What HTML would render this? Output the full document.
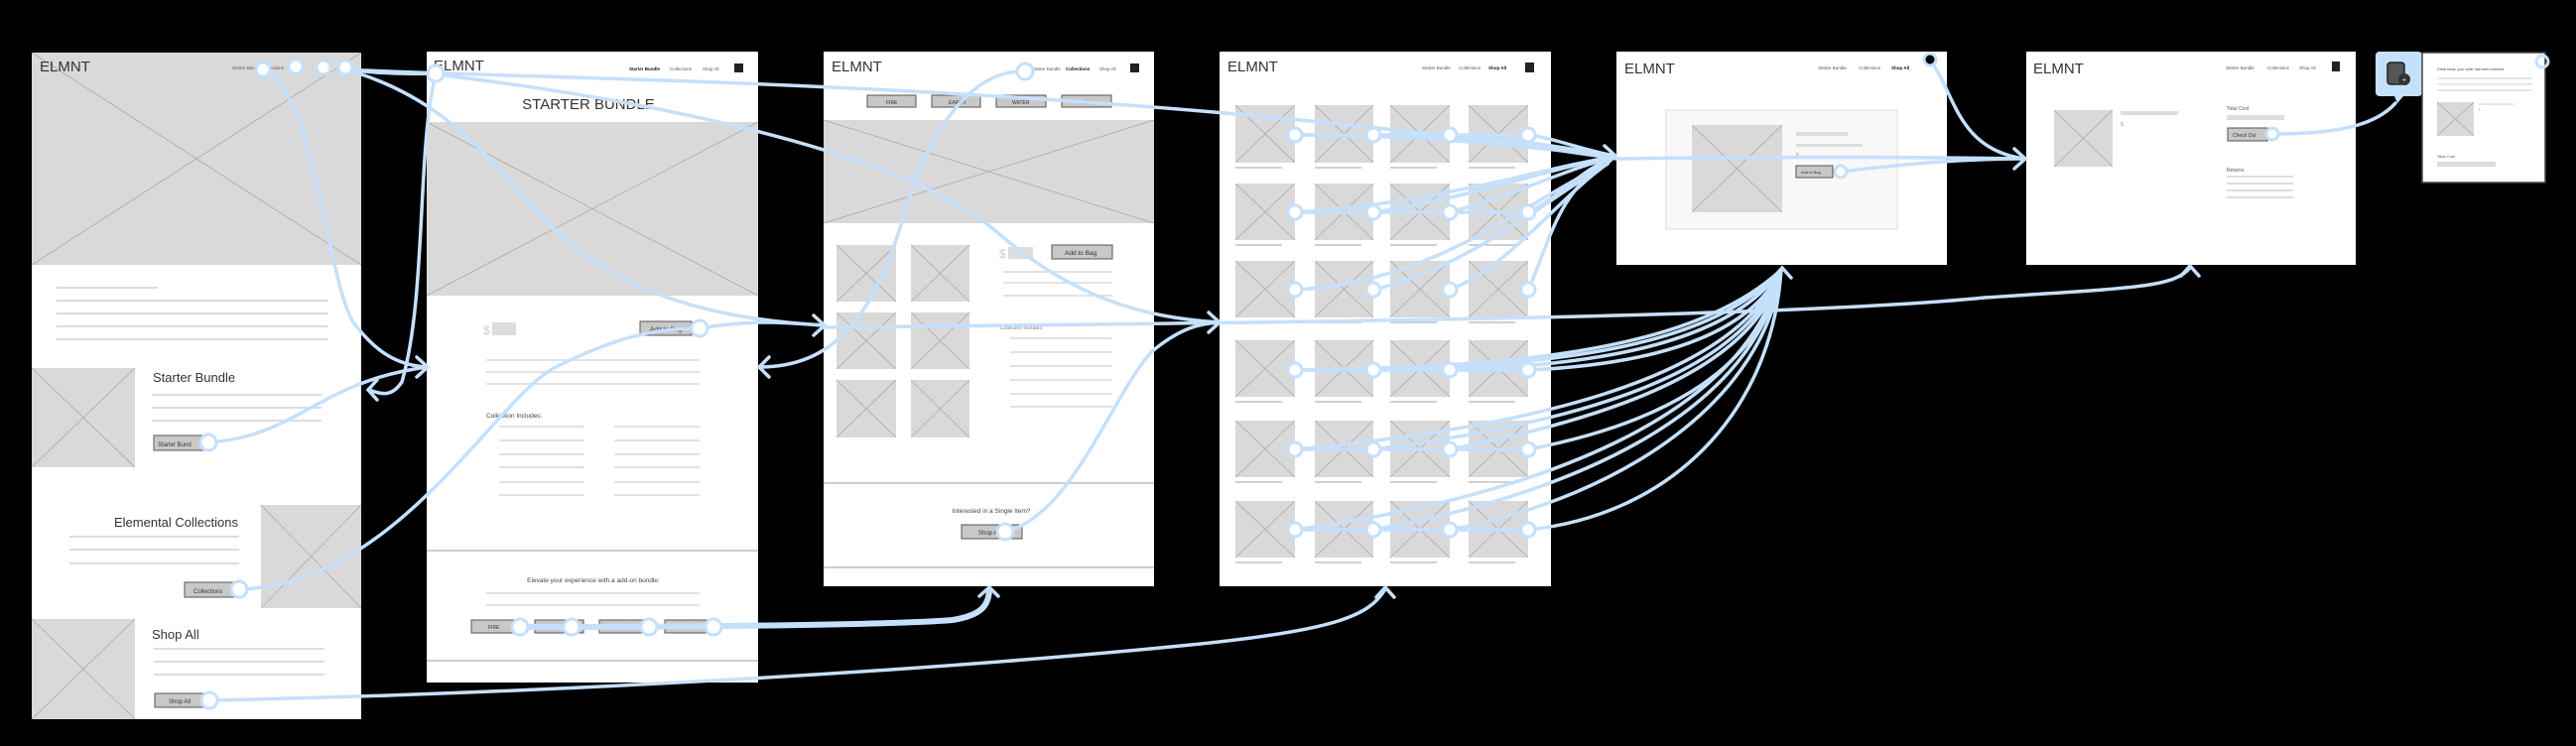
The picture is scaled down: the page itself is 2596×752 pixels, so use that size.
<!DOCTYPE html>
<html><head><meta charset="utf-8"><style>
html,body{margin:0;padding:0;background:#000;}
svg{display:block;font-family:"Liberation Sans",sans-serif;}
</style></head><body>
<svg width="2596" height="752" viewBox="0 0 2596 752" xmlns="http://www.w3.org/2000/svg">
<defs>
<symbol id="ph" viewBox="0 0 100 100" preserveAspectRatio="none">
<rect x="0" y="0" width="100" height="100" fill="#d9d9d9"/>
<line x1="0" y1="0" x2="100" y2="100" stroke="#9a9a9a" stroke-width="0.6" vector-effect="non-scaling-stroke"/>
<line x1="100" y1="0" x2="0" y2="100" stroke="#9a9a9a" stroke-width="0.6" vector-effect="non-scaling-stroke"/>
</symbol>
</defs>
<rect width="2596" height="752" fill="#000"/>

<!-- FRAME 1 -->
<rect x="32" y="53" width="332" height="672" fill="#fff"/>
<use href="#ph" x="32" y="53" width="332" height="214"/>
<text x="40" y="72" font-size="15" fill="#333">ELMNT</text>
<text x="234" y="70" font-size="4.5" fill="#555">Starter Bundle  Collections</text>
<g stroke="#d0d0d0" stroke-width="1.5">
<line x1="57" y1="290" x2="159" y2="290"/>
<line x1="57" y1="303" x2="331" y2="303"/><line x1="57" y1="316" x2="331" y2="316"/>
<line x1="57" y1="329" x2="331" y2="329"/><line x1="57" y1="342" x2="331" y2="342"/>
<line x1="153" y1="398" x2="324" y2="398"/><line x1="153" y1="411" x2="324" y2="411"/><line x1="153" y1="424" x2="324" y2="424"/>
<line x1="70" y1="541" x2="241" y2="541"/><line x1="70" y1="554" x2="241" y2="554"/><line x1="70" y1="568" x2="241" y2="568"/>
<line x1="155" y1="654" x2="327" y2="654"/><line x1="155" y1="667" x2="327" y2="667"/><line x1="155" y1="680" x2="327" y2="680"/>
</g>
<use href="#ph" x="32" y="371" width="104" height="100"/>
<text x="154" y="385" font-size="13" fill="#333">Starter Bundle</text>
<rect x="155" y="439" width="55" height="15" fill="#c8c8c8" stroke="#555"/>
<text x="159" y="450" font-size="6" fill="#333">Starter Bund</text>
<use href="#ph" x="263" y="509" width="101" height="104"/>
<text x="240" y="531" font-size="13" fill="#333" text-anchor="end">Elemental Collections</text>
<rect x="186" y="587" width="54" height="15" fill="#c8c8c8" stroke="#555"/>
<text x="195" y="598" font-size="6" fill="#333">Collections</text>
<use href="#ph" x="32" y="624" width="104" height="101"/>
<text x="153" y="644" font-size="13" fill="#333">Shop All</text>
<rect x="156" y="699" width="54" height="14" fill="#c8c8c8" stroke="#555"/>
<text x="170" y="709" font-size="6" fill="#333">Shop All</text>

<!-- FRAME 2 -->
<rect x="430" y="52" width="334" height="636" fill="#fff"/>
<text x="437" y="71" font-size="15" fill="#333">ELMNT</text>
<text x="634" y="71" font-size="4.5" fill="#111" font-weight="bold">Starter Bundle</text>
<text x="675" y="71" font-size="4.5" fill="#555">Collections</text>
<text x="708" y="71" font-size="4.5" fill="#555">Shop All</text>
<rect x="740" y="64" width="9" height="9" fill="#222"/>
<text x="593" y="110" font-size="15" fill="#333" text-anchor="middle">STARTER BUNDLE</text>
<use href="#ph" x="430" y="123" width="334" height="175"/>
<text x="487" y="337" font-size="12" fill="#ccc">$</text>
<rect x="496" y="325" width="24" height="13" fill="#ddd"/>
<rect x="645" y="324" width="52" height="14" fill="#c8c8c8" stroke="#555"/>
<text x="655" y="334" font-size="6.5" fill="#333">Add to Bag</text>
<g stroke="#d0d0d0" stroke-width="1.2">
<line x1="490" y1="363" x2="705" y2="363"/><line x1="490" y1="375" x2="705" y2="375"/><line x1="490" y1="387" x2="705" y2="387"/>
<line x1="503" y1="430" x2="589" y2="430"/><line x1="503" y1="444" x2="589" y2="444"/><line x1="503" y1="458" x2="589" y2="458"/><line x1="503" y1="471" x2="589" y2="471"/><line x1="503" y1="486" x2="589" y2="486"/><line x1="503" y1="499" x2="589" y2="499"/>
<line x1="619" y1="430" x2="705" y2="430"/><line x1="619" y1="444" x2="705" y2="444"/><line x1="619" y1="458" x2="705" y2="458"/><line x1="619" y1="471" x2="705" y2="471"/><line x1="619" y1="486" x2="705" y2="486"/><line x1="619" y1="499" x2="705" y2="499"/>
<line x1="490" y1="598" x2="705" y2="598"/><line x1="490" y1="610" x2="705" y2="610"/>
</g>
<text x="490" y="421" font-size="6.5" fill="#444">Collection Includes:</text>
<line x1="430" y1="555" x2="764" y2="555" stroke="#bbb" stroke-width="1.5"/>
<text x="598" y="587" font-size="6.5" fill="#444" text-anchor="middle">Elevate your experience with a add-on bundle:</text>
<g fill="#c8c8c8" stroke="#555">
<rect x="475" y="625" width="45" height="13"/><rect x="539" y="625" width="49" height="13"/><rect x="604" y="625" width="51" height="13"/><rect x="670" y="625" width="42" height="13"/>
</g>
<text x="492" y="634" font-size="5" fill="#333">FIRE</text>
<line x1="430" y1="666" x2="764" y2="666" stroke="#bbb" stroke-width="1.5"/>

<!-- FRAME 3 -->
<rect x="830" y="52" width="333" height="539" fill="#fff"/>
<text x="838" y="72" font-size="15" fill="#333">ELMNT</text>
<text x="1040" y="71" font-size="4.5" fill="#555">Starter Bundle</text>
<text x="1074" y="71" font-size="4.5" fill="#111" font-weight="bold">Collections</text>
<text x="1108" y="71" font-size="4.5" fill="#555">Shop All</text>
<rect x="1139" y="64" width="9" height="9" fill="#222"/>
<g fill="#c8c8c8" stroke="#555">
<rect x="874" y="96" width="49" height="12"/><rect x="939" y="96" width="49" height="12"/><rect x="1004" y="96" width="50" height="12"/><rect x="1070" y="96" width="50" height="12"/>
</g>
<text x="893" y="105" font-size="5" fill="#333">FIRE</text>
<text x="956" y="105" font-size="5" fill="#333">EARTH</text>
<text x="1020" y="105" font-size="5" fill="#333">WATER</text>
<text x="1090" y="105" font-size="5" fill="#333">AIR</text>
<use href="#ph" x="830" y="121" width="333" height="104"/>
<use href="#ph" x="843" y="247" width="60" height="57"/><use href="#ph" x="918" y="247" width="59" height="57"/>
<use href="#ph" x="843" y="315" width="60" height="57"/><use href="#ph" x="918" y="315" width="59" height="57"/>
<use href="#ph" x="843" y="383" width="60" height="58"/><use href="#ph" x="918" y="383" width="59" height="58"/>
<text x="1007" y="260" font-size="12" fill="#ccc">$</text>
<rect x="1016" y="249" width="25" height="12" fill="#ddd"/>
<rect x="1060" y="247" width="61" height="14" fill="#c8c8c8" stroke="#555"/>
<text x="1073" y="257" font-size="6.5" fill="#333">Add to Bag</text>
<g stroke="#d0d0d0" stroke-width="1.2">
<line x1="1011" y1="274" x2="1121" y2="274"/><line x1="1011" y1="285" x2="1121" y2="285"/><line x1="1011" y1="298" x2="1121" y2="298"/>
<line x1="1018" y1="341" x2="1121" y2="341"/><line x1="1018" y1="355" x2="1121" y2="355"/><line x1="1018" y1="369" x2="1121" y2="369"/><line x1="1018" y1="383" x2="1121" y2="383"/><line x1="1018" y1="397" x2="1121" y2="397"/><line x1="1018" y1="410" x2="1121" y2="410"/>
</g>
<text x="1008" y="332" font-size="5" fill="#777">Collection Includes:</text>
<line x1="830" y1="487" x2="1163" y2="487" stroke="#bbb" stroke-width="1.5"/>
<text x="999" y="517" font-size="6.5" fill="#444" text-anchor="middle">Interested in a Single Item?</text>
<rect x="969" y="529" width="61" height="14" fill="#c8c8c8" stroke="#555"/>
<text x="986" y="539" font-size="6" fill="#333">Shop All</text>
<line x1="830" y1="572" x2="1163" y2="572" stroke="#bbb" stroke-width="1.5"/>

<!-- FRAME 4 -->
<rect x="1229" y="52" width="334" height="539" fill="#fff"/>
<text x="1237" y="72" font-size="15" fill="#333">ELMNT</text>
<text x="1433" y="70" font-size="4.5" fill="#555">Starter Bundle</text>
<text x="1470" y="70" font-size="4.5" fill="#555">Collections</text>
<text x="1500" y="70" font-size="4.5" fill="#111" font-weight="bold">Shop All</text>
<rect x="1537" y="63" width="9" height="10" fill="#222"/>
<g>
<use href="#ph" x="1245" y="106" width="60" height="58"/><use href="#ph" x="1325" y="106" width="59" height="58"/><use href="#ph" x="1401" y="106" width="60" height="58"/><use href="#ph" x="1480" y="106" width="60" height="58"/>
<use href="#ph" x="1245" y="185" width="60" height="57"/><use href="#ph" x="1325" y="185" width="59" height="57"/><use href="#ph" x="1401" y="185" width="60" height="57"/><use href="#ph" x="1480" y="185" width="60" height="57"/>
<use href="#ph" x="1245" y="263" width="60" height="57"/><use href="#ph" x="1325" y="263" width="59" height="57"/><use href="#ph" x="1401" y="263" width="60" height="57"/><use href="#ph" x="1480" y="263" width="60" height="57"/>
<use href="#ph" x="1245" y="343" width="60" height="57"/><use href="#ph" x="1325" y="343" width="59" height="57"/><use href="#ph" x="1401" y="343" width="60" height="57"/><use href="#ph" x="1480" y="343" width="60" height="57"/>
<use href="#ph" x="1245" y="424" width="60" height="57"/><use href="#ph" x="1325" y="424" width="59" height="57"/><use href="#ph" x="1401" y="424" width="60" height="57"/><use href="#ph" x="1480" y="424" width="60" height="57"/>
<use href="#ph" x="1245" y="505" width="60" height="57"/><use href="#ph" x="1325" y="505" width="59" height="57"/><use href="#ph" x="1401" y="505" width="60" height="57"/><use href="#ph" x="1480" y="505" width="60" height="57"/>
</g>
<g stroke="#d0d0d0" stroke-width="2">
<line x1="1245" y1="169" x2="1292" y2="169"/><line x1="1325" y1="169" x2="1372" y2="169"/><line x1="1401" y1="169" x2="1448" y2="169"/><line x1="1480" y1="169" x2="1527" y2="169"/>
<line x1="1245" y1="247" x2="1292" y2="247"/><line x1="1325" y1="247" x2="1372" y2="247"/><line x1="1401" y1="247" x2="1448" y2="247"/><line x1="1480" y1="247" x2="1527" y2="247"/>
<line x1="1245" y1="325" x2="1292" y2="325"/><line x1="1325" y1="325" x2="1372" y2="325"/><line x1="1401" y1="325" x2="1448" y2="325"/><line x1="1480" y1="325" x2="1527" y2="325"/>
<line x1="1245" y1="405" x2="1292" y2="405"/><line x1="1325" y1="405" x2="1372" y2="405"/><line x1="1401" y1="405" x2="1448" y2="405"/><line x1="1480" y1="405" x2="1527" y2="405"/>
<line x1="1245" y1="486" x2="1292" y2="486"/><line x1="1325" y1="486" x2="1372" y2="486"/><line x1="1401" y1="486" x2="1448" y2="486"/><line x1="1480" y1="486" x2="1527" y2="486"/>
<line x1="1245" y1="567" x2="1292" y2="567"/><line x1="1325" y1="567" x2="1372" y2="567"/><line x1="1401" y1="567" x2="1448" y2="567"/><line x1="1480" y1="567" x2="1527" y2="567"/>
</g>

<!-- FRAME 5 -->
<rect x="1629" y="52" width="333" height="215" fill="#fff"/>
<text x="1637" y="74" font-size="15" fill="#333">ELMNT</text>
<text x="1832" y="70" font-size="4.5" fill="#555">Starter Bundle</text>
<text x="1873" y="70" font-size="4.5" fill="#555">Collections</text>
<text x="1906" y="70" font-size="4.5" fill="#111" font-weight="bold">Shop All</text>
<rect x="1679" y="111" width="233" height="120" fill="#f8f8f8" stroke="#ddd"/>
<use href="#ph" x="1705" y="126" width="91" height="88"/>
<rect x="1810" y="133" width="52" height="4" fill="#ddd"/>
<rect x="1810" y="145" width="67" height="3" fill="#ddd"/>
<text x="1810" y="158" font-size="5" fill="#999">$</text>
<rect x="1810" y="167" width="37" height="12" fill="#c8c8c8" stroke="#555"/>
<text x="1815" y="175" font-size="4" fill="#333">Add to Bag</text>

<!-- FRAME 6 -->
<rect x="2042" y="52" width="332" height="215" fill="#fff"/>
<text x="2049" y="74" font-size="15" fill="#333">ELMNT</text>
<text x="2243" y="70" font-size="4.5" fill="#555">Starter Bundle</text>
<text x="2285" y="70" font-size="4.5" fill="#555">Collections</text>
<text x="2317" y="70" font-size="4.5" fill="#555">Shop All</text>
<rect x="2350" y="62" width="8" height="10" fill="#222"/>
<use href="#ph" x="2070" y="111" width="59" height="57"/>
<rect x="2137" y="112" width="58" height="4" fill="#ddd"/>
<text x="2137" y="127" font-size="5" fill="#999">$</text>
<text x="2244" y="111" font-size="5" fill="#555">Total Cost</text>
<rect x="2244" y="116" width="58" height="5" fill="#ddd"/>
<rect x="2245" y="129" width="40" height="13" fill="#c8c8c8" stroke="#555"/>
<text x="2250" y="138" font-size="5" fill="#333">Check Out</text>
<text x="2244" y="173" font-size="5" fill="#555">Returns</text>
<g stroke="#ddd" stroke-width="2"><line x1="2244" y1="178" x2="2311" y2="178"/><line x1="2244" y1="185" x2="2311" y2="185"/><line x1="2244" y1="192" x2="2311" y2="192"/><line x1="2244" y1="199" x2="2311" y2="199"/></g>

<!-- ICON -->
<path d="M2398 52 H2437 a4 4 0 0 1 4 4 V93 a4 4 0 0 1 -4 4 H2422 L2416 104 L2413 97 H2398 a4 4 0 0 1 -4 -4 V56 a4 4 0 0 1 4 -4 Z" fill="#c5e0fb"/>
<rect x="2406" y="63" width="17" height="22" rx="3" fill="#555" stroke="#222" stroke-width="1.5"/>
<circle cx="2423" cy="80" r="6" fill="#333"/>
<text x="2423" y="83" font-size="8" fill="#ccc" text-anchor="middle">+</text>

<!-- FRAME 7 -->
<rect x="2441" y="53" width="124" height="131" fill="#fff" stroke="#444" stroke-width="1.5"/>
<text x="2456" y="71" font-size="3.6" fill="#444">Great news, your order has been received.</text>
<g stroke="#ddd" stroke-width="1.5"><line x1="2456" y1="79" x2="2551" y2="79"/><line x1="2456" y1="85" x2="2551" y2="85"/><line x1="2456" y1="91" x2="2551" y2="91"/><line x1="2498" y1="105" x2="2533" y2="105"/></g>
<use href="#ph" x="2456" y="103" width="37" height="34"/>
<text x="2498" y="112" font-size="3" fill="#999">$</text>
<text x="2456" y="159" font-size="4" fill="#555">Total Cost</text>
<rect x="2456" y="163" width="59" height="5" fill="#ddd"/>

<!-- CONNECTORS -->
<g fill="none" stroke="#c5e0fb" stroke-width="3.5" stroke-linecap="round">
<!-- frame1 nav -->
<path d="M265 70 C320 90 330 300 360 330 C380 355 400 368 430 370"/>
<path d="M348 70 C520 80 1100 80 1629 160"/>
<path d="M348 70 C420 90 470 130 520 190 C600 290 700 320 830 328"/>
<path d="M348 70 C380 74 410 75 439 74"/>
<path d="M439 75 C650 100 900 150 1000 230 C1080 300 1150 320 1229 325"/>
<path d="M439 75 C420 150 430 300 405 385 C395 400 385 398 372 393"/>
<path d="M210 446 C300 440 320 385 430 370"/>
<path d="M241 594 C400 590 500 400 560 370 C620 340 660 331 705 331"/>
<path d="M705 331 C760 322 790 325 830 328"/>
<path d="M211 706 C500 700 900 680 1200 650 C1350 635 1380 620 1396 594"/>
<path d="M524 632 C700 632 900 630 960 625 C990 620 996 610 997 595" stroke-width="6"/>
<path d="M1033 72 C970 70 930 150 910 220 C880 320 840 370 765 370"/>
<path d="M1013 536 C1080 520 1120 400 1160 355 C1190 330 1210 326 1229 325"/>
<path d="M830 330 C1300 325 1800 320 2000 300 C2150 290 2190 290 2207 270"/>
<!-- frame4 top rows -> frame5 -->
<path d="M1305 136 C1450 136 1550 150 1627 157"/>
<path d="M1384 136 C1480 140 1560 150 1627 157"/>
<path d="M1461 136 C1530 140 1580 150 1627 157"/>
<path d="M1540 136 C1570 140 1590 150 1627 157"/>
<path d="M1305 214 C1450 205 1550 170 1627 158"/>
<path d="M1384 214 C1480 200 1560 170 1627 158"/>
<path d="M1461 214 C1530 195 1580 170 1627 158"/>
<path d="M1540 214 C1570 200 1595 170 1627 158"/>
<path d="M1305 292 C1450 285 1540 200 1620 165"/>
<path d="M1384 292 C1480 270 1560 200 1620 165"/>
<path d="M1461 292 C1520 270 1570 200 1620 165"/>
<path d="M1540 292 C1560 250 1570 190 1620 165"/>
<path d="M1305 136 L1540 136"/><path d="M1305 214 L1540 214"/>
<!-- frame4 bottom rows -> frame5 bottom -->
<path d="M1305 373 C1500 370 1700 360 1795 272"/>
<path d="M1384 373 C1550 368 1720 355 1795 272"/>
<path d="M1461 373 C1600 368 1740 350 1795 272"/>
<path d="M1540 373 C1650 368 1760 345 1795 272"/>
<path d="M1305 453 C1550 430 1750 380 1795 272"/>
<path d="M1384 453 C1600 425 1760 375 1795 272"/>
<path d="M1461 453 C1630 420 1770 370 1795 272"/>
<path d="M1540 453 C1660 430 1775 380 1795 272"/>
<path d="M1305 534 C1550 500 1760 420 1795 272"/>
<path d="M1384 534 C1600 495 1770 410 1795 272"/>
<path d="M1461 534 C1640 500 1780 400 1795 272"/>
<path d="M1540 534 C1680 520 1785 420 1795 272"/>
<path d="M1305 373 L1540 373"/><path d="M1305 453 L1540 453"/><path d="M1305 534 L1540 534"/>
<!-- frame5 -> frame6 -->
<path d="M1855 173 C1920 165 1980 160 2040 160"/>
<path d="M1944 60 C1970 90 1970 150 2040 160"/>
<path d="M1629 160 C1800 158 1900 158 2040 160"/>
<path d="M2290 135 C2360 135 2395 125 2414 104"/>
<!-- arrowheads -->
<path d="M420 360 L431 370 L420 380"/>
<path d="M380 383 L371 393 L380 403"/>
<path d="M820 318 L831 328 L820 338"/>
<path d="M775 360 L765 370 L775 380"/>
<path d="M1218 315 L1229 325 L1218 335"/>
<path d="M1617 147 L1628 157 L1617 167"/>
<path d="M2030 150 L2041 160 L2030 170"/>
<path d="M987 601 L997 592 L1006 601"/>
<path d="M1387 602 L1396 592 L1405 602"/>
<path d="M1787 280 L1796 270 L1805 280"/>
<path d="M2198 278 L2207 268 L2216 278"/>
</g>
<g fill="#fff" stroke="#c5e0fb" stroke-width="3">
<circle cx="265" cy="70" r="7"/><circle cx="298" cy="67" r="7"/><circle cx="326" cy="68" r="7"/><circle cx="348" cy="68" r="7"/>
<circle cx="439" cy="74" r="8"/>
<circle cx="210" cy="446" r="8"/><circle cx="241" cy="594" r="8"/><circle cx="211" cy="706" r="8"/>
<circle cx="705" cy="331" r="8"/>
<circle cx="524" cy="632" r="8"/><circle cx="576" cy="632" r="8"/><circle cx="654" cy="632" r="8"/><circle cx="719" cy="632" r="8"/>
<circle cx="1033" cy="72" r="8"/><circle cx="1013" cy="536" r="8"/>
<circle cx="1305" cy="136" r="7"/><circle cx="1384" cy="136" r="7"/><circle cx="1461" cy="136" r="7"/><circle cx="1540" cy="136" r="7"/>
<circle cx="1305" cy="214" r="7"/><circle cx="1384" cy="214" r="7"/><circle cx="1461" cy="214" r="7"/><circle cx="1540" cy="214" r="7"/>
<circle cx="1305" cy="292" r="7"/><circle cx="1384" cy="292" r="7"/><circle cx="1461" cy="292" r="7"/><circle cx="1540" cy="292" r="7"/>
<circle cx="1305" cy="373" r="7"/><circle cx="1384" cy="373" r="7"/><circle cx="1461" cy="373" r="7"/><circle cx="1540" cy="373" r="7"/>
<circle cx="1305" cy="453" r="7"/><circle cx="1384" cy="453" r="7"/><circle cx="1461" cy="453" r="7"/><circle cx="1540" cy="453" r="7"/>
<circle cx="1305" cy="534" r="7"/><circle cx="1384" cy="534" r="7"/><circle cx="1461" cy="534" r="7"/><circle cx="1540" cy="534" r="7"/>
<circle cx="1855" cy="173" r="6"/><circle cx="2290" cy="135" r="6"/>
</g>
<circle cx="1945" cy="60" r="6" fill="#000" stroke="#c5e0fb" stroke-width="3"/>
<circle cx="2562" cy="62" r="6" fill="none" stroke="#c5e0fb" stroke-width="3"/>
</svg>
</body></html>
